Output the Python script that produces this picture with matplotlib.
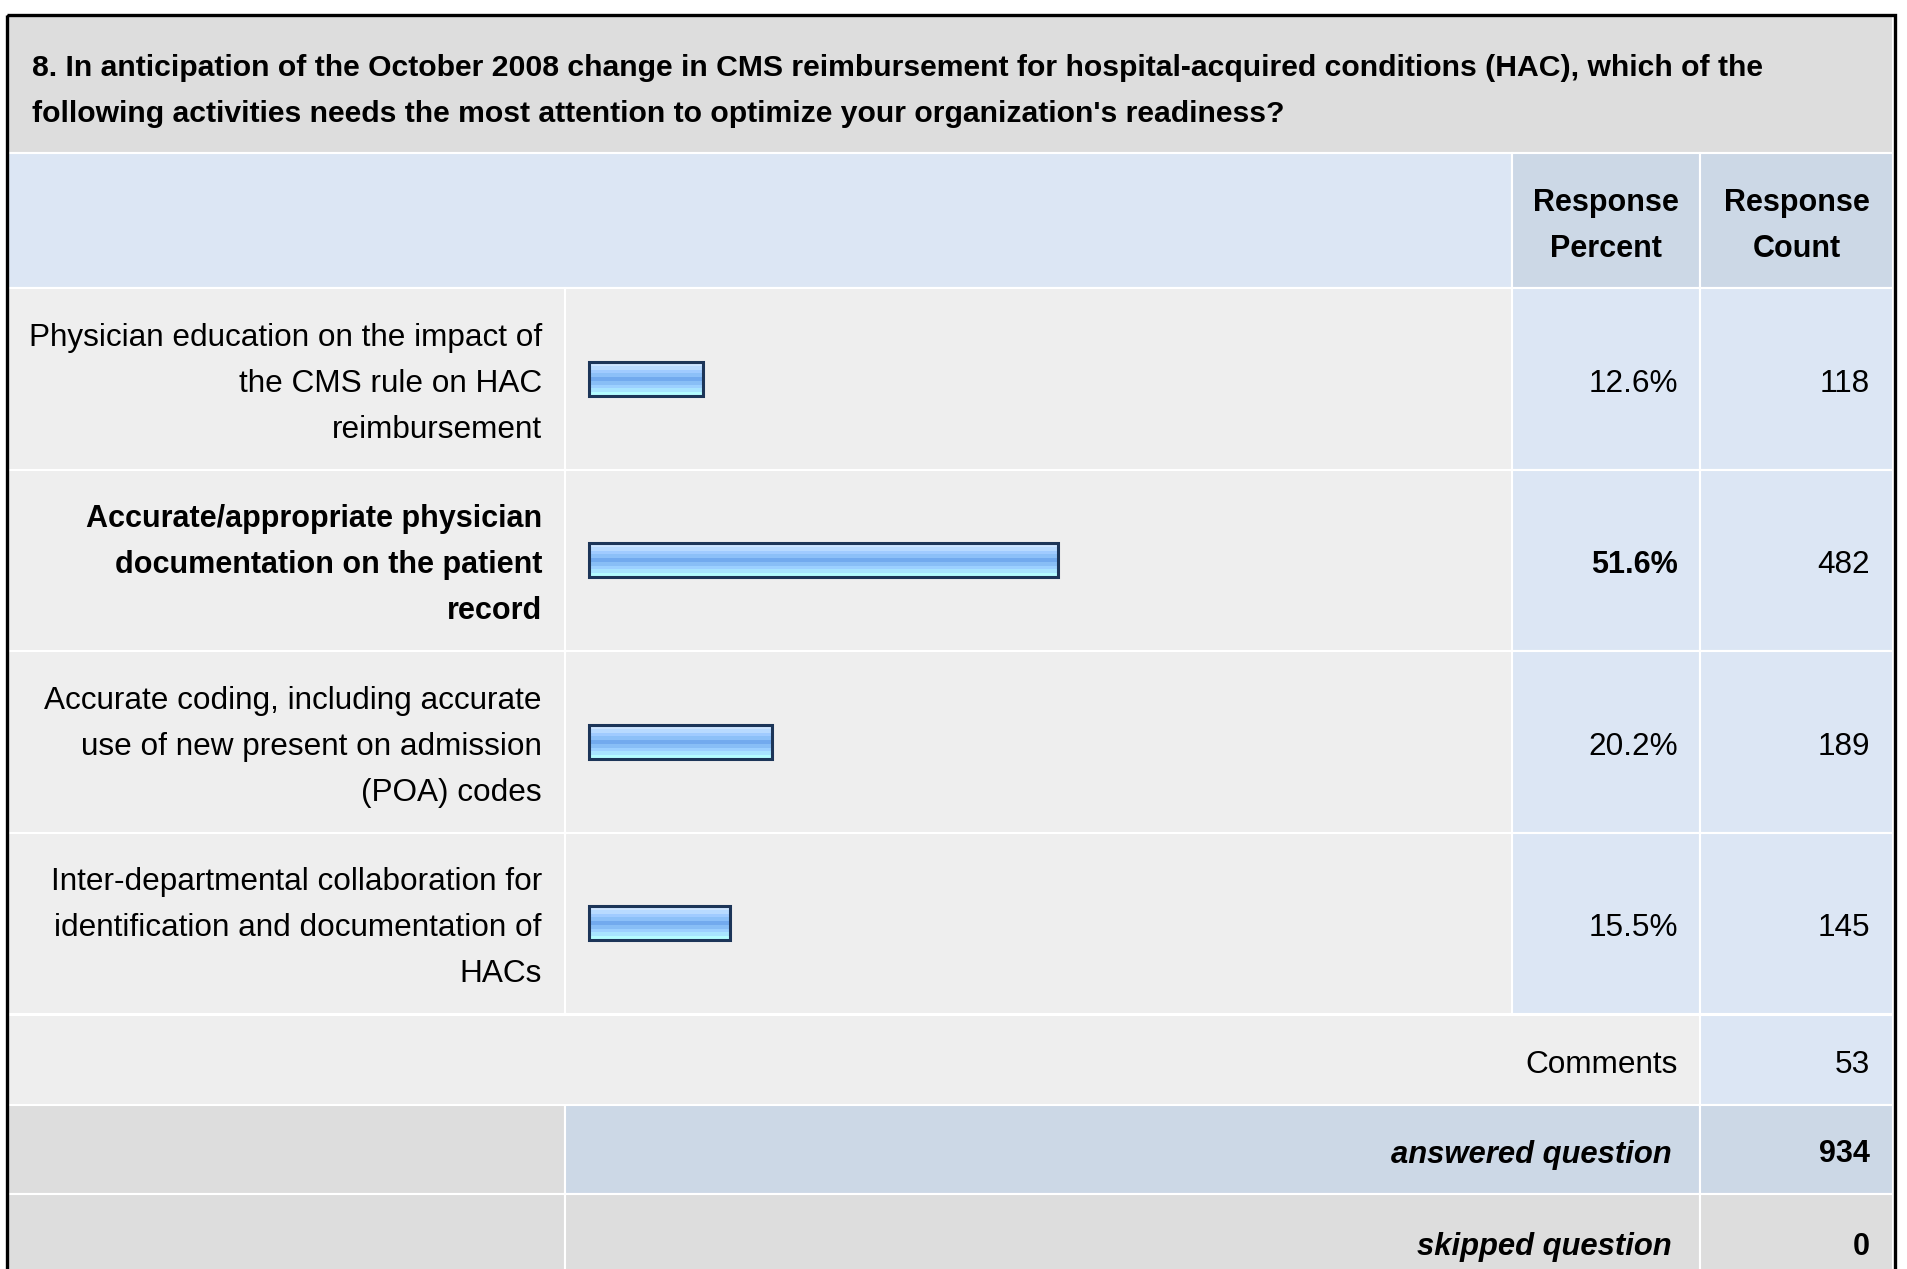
import matplotlib
matplotlib.use("Agg")
import matplotlib.pyplot as plt
from matplotlib.patches import Rectangle
from matplotlib.colors import to_rgb
import numpy as np

plt.rcParams['font.family'] = ['Liberation Sans', 'DejaVu Sans']

title_lines = [
    "8. In anticipation of the October 2008 change in CMS reimbursement for hospital-acquired conditions (HAC), which of the",
    "following activities needs the most attention to optimize your organization's readiness?",
]
answer_labels = [
    ["Physician education on the impact of", "the CMS rule on HAC", "reimbursement"],
    ["Accurate/appropriate physician", "documentation on the patient", "record"],
    ["Accurate coding, including accurate", "use of new present on admission", "(POA) codes"],
    ["Inter-departmental collaboration for", "identification and documentation of", "HACs"],
]
response_percent = [12.6, 51.6, 20.2, 15.5]
response_count = [118, 482, 189, 145]
comments_count = 53
answered_count = 934
skipped_count = 0

# layout in pixels (figure is 1907 x 1269)
W, H = 1907, 1269
X0, X_LAB, X_BAR, X_PCT, X1 = 8, 565, 1512, 1700, 1893
Y_TITLE, Y_HEAD, Y_ROW0 = 16, 153, 288
ROW_H = 181.5
Y_COMM, Y_ANS, Y_SKIP, Y_END = 1015, 1105, 1194, 1290
BAR_LEFT = 589
PX_PER_PCT = 9.08
BAR_H = 34
DY = 5  # centre text on cap height rather than full bbox

GRAY = "#dddddd"
ROWBG = "#eeeeee"
LBLUE = "#dce6f4"
MBLUE = "#ccd8e6"
FS = 22.7   # regular text
FSB = 22    # bold text
FSI = 22.3  # bold italic

fig = plt.figure(figsize=(W / 100, H / 100), dpi=100)
ax = fig.add_axes([0, 0, 1, 1])
ax.set_xlim(0, W)
ax.set_ylim(H, 0)
ax.axis('off')


def cell(x0, y0, x1, y1, color):
    ax.add_patch(Rectangle((x0, y0), x1 - x0, y1 - y0, facecolor=color,
                           edgecolor='white', linewidth=1.5, zorder=1))


# title band
cell(X0, Y_TITLE, X1, Y_HEAD, GRAY)
for i, line in enumerate(title_lines):
    ax.text(32, 63 + DY + i * 46.5, line, fontsize=21.7, fontweight='bold',
            ha='left', va='center', zorder=3)

# header
cell(X0, Y_HEAD, X_BAR, Y_ROW0, LBLUE)
cell(X_BAR, Y_HEAD, X_PCT, Y_ROW0, MBLUE)
cell(X_PCT, Y_HEAD, X1, Y_ROW0, MBLUE)
for xc, words in [((X_BAR + X_PCT) / 2, ["Response", "Percent"]),
                  ((X_PCT + X1) / 2, ["Response", "Count"])]:
    for i, w in enumerate(words):
        ax.text(xc, 199 + DY - 1 + i * 46, w, fontsize=FSB, fontweight='bold',
                ha='center', va='center', zorder=3)

# answer rows
top_pct = max(response_percent)
stripes = ["#cce4ff", "#b8daff", "#a0cbff", "#8cc0f8", "#72aaee",
           "#88bef6", "#9cd0ff", "#a8e4ff", "#b4fcff"]
grad = np.array([to_rgb(c) for c in stripes])[:, None, :]
for i, (lines, pct, cnt) in enumerate(zip(answer_labels, response_percent, response_count)):
    y0 = Y_ROW0 + i * ROW_H
    y1 = y0 + ROW_H
    yc = (y0 + y1) / 2
    cell(X0, y0, X_LAB, y1, ROWBG)
    cell(X_LAB, y0, X_BAR, y1, ROWBG)
    cell(X_BAR, y0, X_PCT, y1, LBLUE)
    cell(X_PCT, y0, X1, y1, LBLUE)
    top = pct == top_pct
    wt = 'bold' if top else 'normal'
    fs = FSB if top else FS
    for j, ln in enumerate(lines):
        ax.text(542, yc + DY + (j - (len(lines) - 1) / 2) * 46, ln, fontsize=fs,
                fontweight=wt, ha='right', va='center', zorder=3)
    bars = ax.barh([yc], [pct * PX_PER_PCT], left=BAR_LEFT, height=BAR_H,
                   facecolor='none', edgecolor='#1c3558', linewidth=2.2, zorder=4)
    b = bars[0]
    im = ax.imshow(grad, extent=(BAR_LEFT, BAR_LEFT + pct * PX_PER_PCT,
                                 yc + BAR_H / 2, yc - BAR_H / 2),
                   aspect='auto', interpolation='nearest', zorder=3)
    im.set_clip_path(b)
    ax.text(1678, yc + DY, f"{pct:.1f}%", fontsize=fs, fontweight=wt,
            ha='right', va='center', zorder=3)
    ax.text(1870, yc + DY, str(cnt), fontsize=FS, ha='right', va='center', zorder=3)

# comments row
cell(X0, Y_COMM, X_PCT, Y_ANS, ROWBG)
cell(X_PCT, Y_COMM, X1, Y_ANS, LBLUE)
yc = (Y_COMM + Y_ANS) / 2 + DY
ax.text(1678, yc, "Comments", fontsize=FS, ha='right', va='center', zorder=3)
ax.text(1870, yc, str(comments_count), fontsize=FS, ha='right', va='center', zorder=3)

# answered question
cell(X0, Y_ANS, X_LAB, Y_SKIP, GRAY)
cell(X_LAB, Y_ANS, X_PCT, Y_SKIP, MBLUE)
cell(X_PCT, Y_ANS, X1, Y_SKIP, MBLUE)
yc = (Y_ANS + Y_SKIP) / 2 + DY
ax.text(1672, yc, "answered question", fontsize=FSI, fontweight='bold',
        fontstyle='italic', ha='right', va='center', zorder=3)
ax.text(1870, yc, str(answered_count), fontsize=FSB, fontweight='bold',
        ha='right', va='center', zorder=3)

# skipped question
cell(X0, Y_SKIP, X_LAB, Y_END, GRAY)
cell(X_LAB, Y_SKIP, X_PCT, Y_END, GRAY)
cell(X_PCT, Y_SKIP, X1, Y_END, GRAY)
yc = 1242 + DY
ax.text(1672, yc, "skipped question", fontsize=FSI, fontweight='bold',
        fontstyle='italic', ha='right', va='center', zorder=3)
ax.text(1870, yc, str(skipped_count), fontsize=FSB, fontweight='bold',
        ha='right', va='center', zorder=3)

# outer frame
ax.add_patch(Rectangle((6.5, 14.5), 1888, 1300, facecolor='none',
                       edgecolor='black', linewidth=2.4, zorder=5))

fig.savefig("out.png", dpi=100)
